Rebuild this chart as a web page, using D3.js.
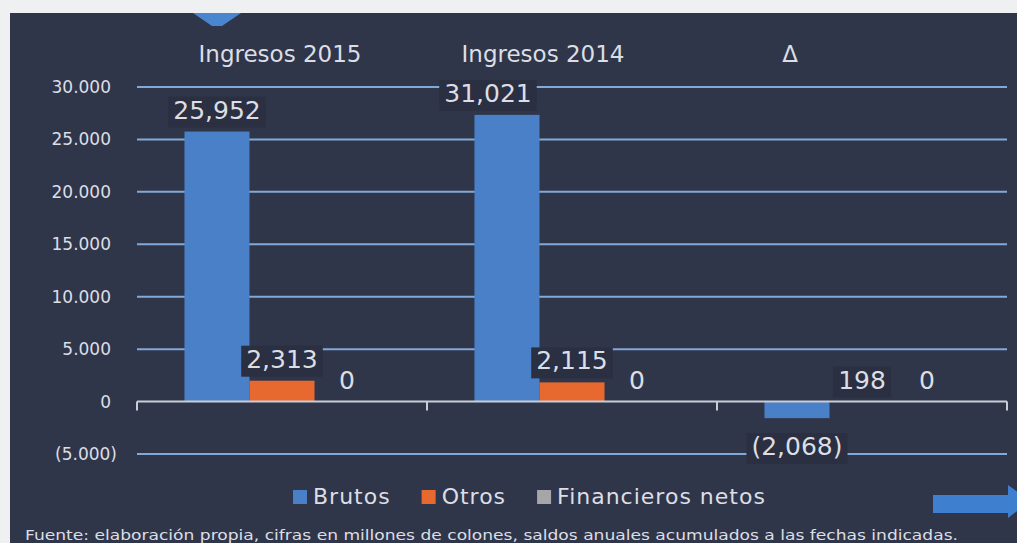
<!DOCTYPE html>
<html>
<head>
<meta charset="utf-8">
<script src="https://cdn.jsdelivr.net/npm/d3@7"></script>
<style>
  body { margin: 0; background: #eef0f2; }
  svg { display: block; }
  text { font-family: "DejaVu Sans", sans-serif; fill: #dcdee5; }
</style>
</head>
<body>
<div class="container"></div>
<script>
// chart data
const categories = ["Ingresos 2015", "Ingresos 2014", "Δ"]
const series = ["Brutos", "Otros", "Financieros netos"]
// bar heights as drawn in the picture
const brutos = [25750, 27340, -1580]
const otros = [1990, 1830, 0]
const financieros = [0, 0, 0]
// values written on the labels
const brutosLabels = [25952, 31021, -2068]
const otrosLabels = [2313, 2115, 198]
const financierosLabels = [0, 0, 0]
const yTicks = [-5000, 0, 5000, 10000, 15000, 20000, 25000, 30000]

const colors = ["#4a80c8", "#e8692f", "#a6a6a8"]

const w = 1017
const h = 543
const plotLeft = 137, plotRight = 1007, plotTop = 87, plotBottom = 454

const svg = d3.select(".container")
  .append("svg")
  .attr("width", w)
  .attr("height", h)

// dark panel
svg.append("rect")
  .attr("x", 10).attr("y", 13)
  .attr("width", w - 10).attr("height", h - 13)
  .attr("fill", "#30364a")

// little blue marker at top
svg.append("path")
  .attr("d", "M193,13 L241,13 L222,26 L212,26 Z")
  .attr("fill", "#4a86d0")

const x = d3.scaleBand().domain(categories).range([plotLeft, plotRight])
const xs = d3.scaleBand().domain(series).range([0, x.bandwidth()])
  .paddingInner(0).paddingOuter(0.73)
const y = d3.scaleLinear().domain([-5000, 30000]).range([plotBottom, plotTop])

const fmtTick = d3.formatLocale({ decimal: ",", thousands: ".", grouping: [3] }).format(",")
const fmtLabel = d3.format(",")

// gridlines (not at zero)
svg.append("g").selectAll("line")
  .data(yTicks.filter(d => d !== 0))
  .enter().append("line")
  .attr("x1", plotLeft).attr("x2", plotRight)
  .attr("y1", d => y(d)).attr("y2", d => y(d))
  .attr("stroke", "#82a9d8")
  .attr("stroke-width", 2)

// y tick labels
svg.append("g").selectAll("text")
  .data(yTicks)
  .enter().append("text")
  .attr("x", d => d < 0 ? 117 : 111)
  .attr("y", d => y(d) + 6)
  .attr("text-anchor", "end")
  .attr("font-size", 17)
  .text(d => d < 0 ? "(" + fmtTick(-d) + ")" : fmtTick(d))

const bars = [brutos, otros, financieros]
const labels = [brutosLabels, otrosLabels, financierosLabels]
const rows = []
series.forEach((s, si) => {
  categories.forEach((c, ci) => {
    rows.push({ s: s, si: si, c: c, v: bars[si][ci], lab: labels[si][ci] })
  })
})

svg.append("g").selectAll("rect")
  .data(rows)
  .enter().append("rect")
  .attr("x", d => x(d.c) + xs(d.s))
  .attr("width", xs.bandwidth())
  .attr("y", d => y(Math.max(0, d.v)))
  .attr("height", d => Math.abs(y(d.v) - y(0)))
  .attr("fill", d => colors[d.si])

// zero axis with ticks at category boundaries
svg.append("line")
  .attr("x1", plotLeft).attr("x2", plotRight)
  .attr("y1", y(0)).attr("y2", y(0))
  .attr("stroke", "#c9cdd8").attr("stroke-width", 2)
svg.append("g").selectAll("line")
  .data(categories.map(c => x(c)).concat([plotRight]))
  .enter().append("line")
  .attr("x1", d => d).attr("x2", d => d)
  .attr("y1", y(0)).attr("y2", y(0) + 9)
  .attr("stroke", "#c9cdd8").attr("stroke-width", 2)

// data labels, non-zero ones sit on a dark box
const lg = svg.append("g")
rows.forEach(d => {
  let cx = x(d.c) + xs(d.s) + xs.bandwidth() / 2
  if (d.lab === 31021) cx -= 19   // this one was moved left in the original
  const by = d.v < 0 ? y(d.v) + 37 : y(d.v) - 13
  const g = lg.append("g")
  const t = g.append("text")
    .attr("x", cx).attr("y", by)
    .attr("text-anchor", "middle")
    .attr("font-size", 25)
    .text(d.lab < 0 ? "(" + fmtLabel(-d.lab) + ")" : fmtLabel(d.lab))
  if (d.lab !== 0) {
    const b = t.node().getBBox()
    g.insert("rect", "text")
      .attr("x", b.x - 5).attr("y", b.y + 1)
      .attr("width", b.width + 10).attr("height", b.height + 2)
      .attr("fill", "#2a2f41")
  }
})

// category headers
const headerShift = [-2, -29, -72]
svg.append("g").selectAll("text")
  .data(categories)
  .enter().append("text")
  .attr("x", (d, i) => x(d) + x.bandwidth() / 2 + headerShift[i])
  .attr("y", 62)
  .attr("text-anchor", "middle")
  .attr("font-size", 23)
  .text(d => d)

// legend
let lx = 293
series.forEach((s, i) => {
  svg.append("rect")
    .attr("x", lx).attr("y", 490)
    .attr("width", 14).attr("height", 14)
    .attr("fill", colors[i])
  const t = svg.append("text")
    .attr("x", lx + 20).attr("y", 504)
    .attr("font-size", 22)
    .attr("letter-spacing", 1)
    .text(s)
  lx += 20 + t.node().getComputedTextLength() + 31
})

// arrow bottom right
svg.append("path")
  .attr("d", "M933,495 L1008,495 L1008,485 L1030,501 L1008,518 L1008,513 L933,513 Z")
  .attr("fill", "#3f7fd0")

// footer
svg.append("text")
  .attr("x", 25).attr("y", 540)
  .attr("font-size", 14)
  .attr("textLength", 933)
  .attr("lengthAdjust", "spacingAndGlyphs")
  .text("Fuente: elaboración propia, cifras en millones de colones, saldos anuales acumulados a las fechas indicadas.")
</script>
</body>
</html>
